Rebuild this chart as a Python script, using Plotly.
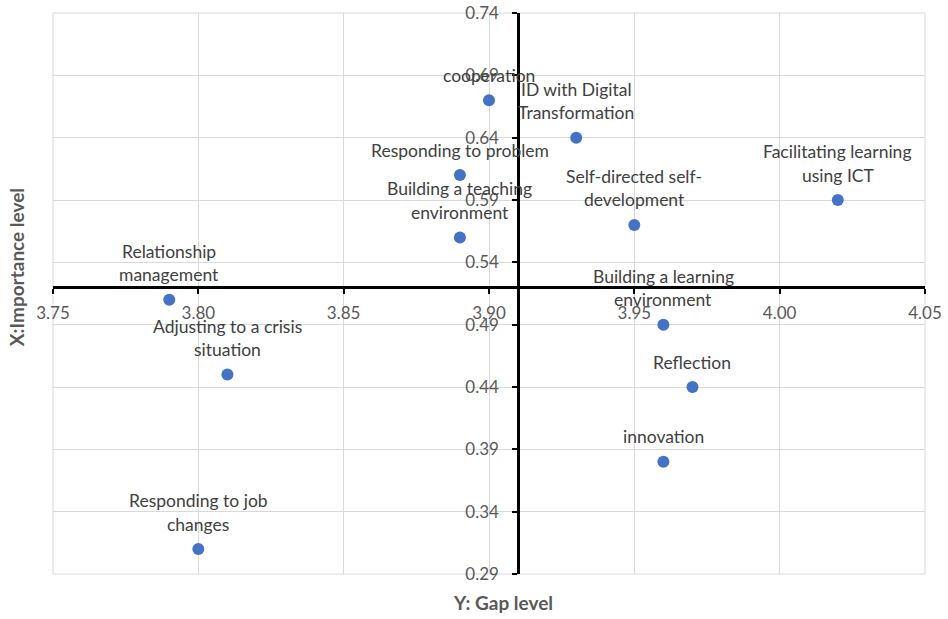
import plotly.graph_objects as go

# ---- data ----
gap_level = [3.90, 3.93, 3.89, 4.02, 3.95, 3.89, 3.79, 3.81, 3.96, 3.97, 3.96, 3.80]
importance_level = [0.67, 0.64, 0.61, 0.59, 0.57, 0.56, 0.51, 0.45, 0.49, 0.44, 0.38, 0.31]
competencies = [
    "cooperation",
    "ID with Digital\nTransformation",
    "Responding to problem",
    "Facilitating learning\nusing ICT",
    "Self-directed self-\ndevelopment",
    "Building a teaching\nenvironment",
    "Relationship\nmanagement",
    "Adjusting to a crisis\nsituation",
    "Building a learning\nenvironment",
    "Reflection",
    "innovation",
    "Responding to job\nchanges",
]
x_ticks = [3.75, 3.80, 3.85, 3.90, 3.95, 4.00, 4.05]
x_tick_labels = ["3.75", "3.80", "3.85", "3.90", "3.95", "4.00", "4.05"]
y_ticks = [0.29, 0.34, 0.39, 0.44, 0.49, 0.54, 0.59, 0.64, 0.69, 0.74]
y_tick_labels = ["0.29", "0.34", "0.39", "0.44", "0.49", "0.54", "0.59", "0.64", "0.69", "0.74"]
x_range = [3.75, 4.05]
y_range = [0.29, 0.74]
x_cross = 3.91   # where the vertical axis crosses
y_cross = 0.52   # where the horizontal axis crosses
x_title = "Y: Gap level"
y_title = "X:Importance level"

FONT = "Lato, Carlito, Calibri, sans-serif"
TICK_COLOR = "#595959"
LABEL_COLOR = "#404040"
GRID = "#d9d9d9"

EPS = 1e-6
xr = [x_range[0] - EPS, x_range[1] + EPS]
yr = [y_range[0] - EPS, y_range[1] + EPS]

fig = go.Figure()
fig.add_trace(go.Scatter(
    x=gap_level, y=importance_level, mode="markers",
    marker=dict(size=12, color="#4472C4"),
    hoverinfo="text", text=[c.replace("\n", " ") for c in competencies],
    showlegend=False,
))

annotations = []
for xv, yv, lab in zip(gap_level, importance_level, competencies):
    lines = lab.split("\n")
    n = len(lines)
    for i, line in enumerate(lines):
        annotations.append(dict(
            x=xv, y=yv, xref="x", yref="y", text=line, showarrow=False,
            xanchor="center", yanchor="middle",
            yshift=25 + (n - 1 - i) * 23.5,
            font=dict(family=FONT, size=17.5, color=LABEL_COLOR),
        ))

annotations.append(dict(
    x=0.516, y=0, xref="paper", yref="paper", text="<b>" + x_title + "</b>",
    showarrow=False, xanchor="center", yanchor="middle", yshift=-28,
    font=dict(family=FONT, size=19, color=TICK_COLOR),
))
annotations.append(dict(
    x=0, y=0.547, xref="paper", yref="paper", text="<b>" + y_title + "</b>",
    showarrow=False, xanchor="center", yanchor="middle", xshift=-37, textangle=-90,
    font=dict(family=FONT, size=19, color=TICK_COLOR),
))

fig.update_layout(
    width=948, height=619,
    margin=dict(l=53, r=23, t=13, b=45, autoexpand=False),
    paper_bgcolor="white", plot_bgcolor="white",
    annotations=annotations,
    shapes=[dict(type="rect", xref="paper", yref="paper", x0=0, y0=0, x1=1, y1=1,
                 line=dict(color=GRID, width=1), layer="below")],
    xaxis=dict(
        range=xr, tickvals=x_ticks, ticktext=x_tick_labels,
        showgrid=True, gridcolor=GRID, gridwidth=1, zeroline=False,
        showline=True, linecolor="black", linewidth=2.5,
        ticks="outside", ticklen=5, tickwidth=2, tickcolor="black",
        ticklabelstandoff=5, automargin=False, ticklabeloverflow="allow",
        tickfont=dict(family=FONT, size=17, color=TICK_COLOR),
        anchor="free",
        position=(y_cross - yr[0]) / (yr[1] - yr[0]),
    ),
    yaxis=dict(
        range=yr, tickvals=y_ticks, ticktext=y_tick_labels,
        showgrid=True, gridcolor=GRID, gridwidth=1, zeroline=False,
        showline=True, linecolor="black", linewidth=2.5,
        ticks="outside", ticklen=5, tickwidth=2, tickcolor="black",
        ticklabelstandoff=10, automargin=False, ticklabeloverflow="allow",
        tickfont=dict(family=FONT, size=17, color=TICK_COLOR),
        anchor="free",
        position=(x_cross - xr[0]) / (xr[1] - xr[0]),
    ),
)

fig.write_html("out.html", config={"displayModeBar": False},
               post_script="document.body.style.margin='0';")
